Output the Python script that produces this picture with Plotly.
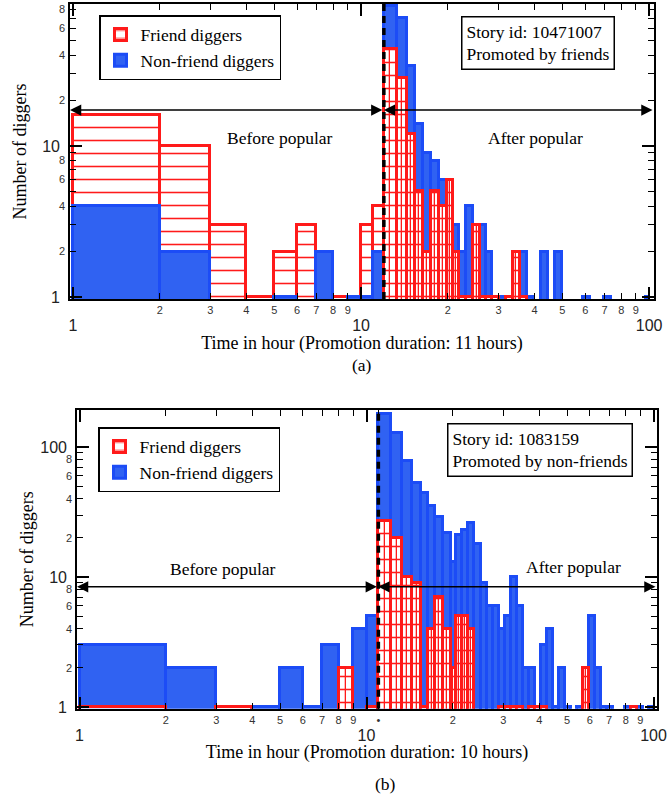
import math
import plotly.graph_objects as go

# ---------------- data: panel (a) story 10471007, promoted by friends ----------------
a_promotion_hours = 11
a_before_edges = [1, 2, 3, 4, 5, 6, 7, 8, 9, 10, 11, 12]
a_before_friend = [16, 10, 3, 1, 2, 3, 0, 1, 0, 3, 4]
a_before_nonfriend = [4, 2, 0, 0, 1, 0, 2, 0, 1, 1, 2]

a_after_edges = [12, 13.3, 14.4, 15.4, 16.4, 17.5, 18.7, 19.9, 20.9, 21.9, 23.1, 24.5,
                 25.9, 27.2, 28.5, 30.2, 31.9, 33.7, 35.6, 37.7, 39.9, 42.2, 44.6, 47.2,
                 49.9, 52.7, 55.8, 59.0, 62.4, 66.0, 69.8, 73.8, 78.0, 82.5, 87.3, 92.3,
                 97.6, 100]
a_after_friend = [44, 28, 12, 5, 2, 5, 4, 6, 2, 1, 1, 3, 1, 1, 1, 0, 1, 2, 1,
                  0, 0, 0, 0, 0, 0, 0, 0, 0, 0, 0, 0, 0, 0, 0, 0, 0, 0]
a_after_nonfriend = [84, 70, 34, 14, 9, 8, 6, 5, 3, 2, 4, 3, 3, 2, 1, 1, 1, 2, 2,
                     1, 0, 2, 0, 2, 0, 0, 0, 1, 0, 0, 1, 0, 0, 0, 0, 0, 1]

# ---------------- data: panel (b) story 1083159, promoted by non-friends ----------------
b_promotion_hours = 10
b_before_edges = [1, 2, 3, 4, 5, 6, 7, 8, 9, 10, 11]
b_before_friend = [1, 0, 1, 0, 0, 0, 0, 2, 0, 1]
b_before_nonfriend = [3, 2, 0, 1, 2, 1, 3, 0, 4, 5]

b_after_edges = [11, 12.17, 13.3, 14.41, 15.48, 16.38, 17.33, 18.48, 19.7, 20.5, 21.51,
                 22.58, 23.7, 25.06, 26.3, 27.6, 28.96, 30.39, 31.88, 33.46, 35.11, 36.84,
                 38.66, 40.55, 42.55, 44.65, 46.85, 49.16, 51.59, 54.13, 56.8, 59.6, 62.54,
                 65.62, 68.86, 72.25, 75.82, 79.56, 83.48, 87.6, 91.92, 96.45, 100]
b_after_friend = [27, 20, 10, 9, 1, 4, 7, 4, 2, 5, 5, 4, 0, 0, 0, 0, 1, 1, 1, 1, 0,
                  1, 1, 1, 0, 0, 0, 0, 0, 0, 2, 0, 0, 0, 0, 0, 0, 0, 1, 0, 0, 0]
b_after_nonfriend = [179, 128, 78, 53, 44, 35, 29, 22, 13, 21, 23, 26, 18, 9, 6, 6, 4, 5,
                     10, 6, 2, 2, 1, 3, 4, 1, 2, 1, 0, 1, 0, 5, 2, 1, 1, 0, 0, 1, 0, 1, 0, 1]

x_minor_vals = [2, 3, 4, 5, 6, 7, 8, 9, 20, 30, 40, 50, 60, 70, 80, 90]
x_minor_text = ["2", "3", "4", "5", "6", "7", "8", "9", "2", "3", "4", "5", "6", "7", "8", "9"]
x_major_vals = [1, 10, 100]
x_major_text = ["1", "10", "100"]
y_minor_vals = [2, 3, 4, 5, 6, 7, 8, 9, 20, 30, 40, 50, 60, 70, 80, 90]
y_minor_text = ["2", "", "4", "", "6", "", "8", "", "2", "", "4", "", "6", "", "8", ""]
y_major_vals = [1, 10, 100]
y_major_text = ["1", "10", "100"]

# ---------------- styling ----------------
W, H = 669, 801
RED = "#ff1a1a"
BLUE_FILL = "#3062f2"
BLUE_LINE = "#1c4cf6"
SERIF = "Liberation Serif"
SANS = "Liberation Sans"

A_XPX, A_YPX = (70, 654), (4, 299)
B_XPX, B_YPX = (77, 657), (410, 708.7)
A_XR, A_YR = [-0.0104, 2.017], [-0.013, 1.94]
B_XR, B_YR = [-0.0087, 2.0122], [-0.013, 2.285]


def pxx(v):
    return v / W


def pxy(v):
    return 1 - v / H


def bar_geom(edges, counts):
    lo, hi = edges[:-1], edges[1:]
    keep = [i for i, c in enumerate(counts) if c > 0]
    x = [(lo[i] + hi[i]) / 2 for i in keep]
    w = [hi[i] - lo[i] for i in keep]
    y = [counts[i] for i in keep]
    return x, w, y


def mid_geom(edges, counts):
    lo, hi = edges[:-1], edges[1:]
    keep = [i for i, c in enumerate(counts) if c > 1]
    g = [math.sqrt(lo[i] * hi[i]) for i in keep]
    x = [(lo[i] + gi) / 2 for i, gi in zip(keep, g)]
    w = [gi - lo[i] for i, gi in zip(keep, g)]
    y = [counts[i] for i in keep]
    return x, w, y


def friend_bar(edges, counts, xa, ya, legend, show):
    x, w, y = bar_geom(edges, counts)
    return go.Bar(x=x, y=y, width=w, xaxis=xa, yaxis=ya, name="Friend diggers",
                  legend=legend, showlegend=show, legendrank=1, hoverinfo="skip",
                  marker=dict(color="white", line=dict(color=RED, width=3),
                              pattern=dict(shape="-", fgcolor=RED, bgcolor="white",
                                           size=13, solidity=0.12, fillmode="replace")))


def friend_mid(edges, counts, xa, ya):
    x, w, y = mid_geom(edges, counts)
    return go.Bar(x=x, y=y, width=w, xaxis=xa, yaxis=ya, showlegend=False,
                  hoverinfo="skip",
                  marker=dict(color="rgba(0,0,0,0)", line=dict(color=RED, width=1.3)))


def nonfriend_bar(edges, counts, xa, ya, legend, show):
    x, w, y = bar_geom(edges, counts)
    return go.Bar(x=x, y=y, width=w, xaxis=xa, yaxis=ya, name="Non-friend diggers",
                  legend=legend, showlegend=show, legendrank=2, hoverinfo="skip",
                  marker=dict(color=BLUE_FILL, line=dict(color=BLUE_LINE, width=3)))


def axis_carrier(edges, counts, xa, ya):
    # invisible trace so the overlaid major-tick axes get drawn
    x, w, y = bar_geom(edges, counts)
    return go.Scatter(x=x, y=y, xaxis=xa, yaxis=ya, mode="none", showlegend=False,
                      hoverinfo="skip")


fig = go.Figure()

# panel (a)
fig.add_trace(friend_bar(a_before_edges, a_before_friend, "x", "y", "legend", True))
fig.add_trace(nonfriend_bar(a_before_edges, a_before_nonfriend, "x", "y", "legend", True))
fig.add_trace(nonfriend_bar(a_after_edges, a_after_nonfriend, "x", "y", "legend", False))
fig.add_trace(friend_bar(a_after_edges, a_after_friend, "x", "y", "legend", False))
fig.add_trace(friend_mid(a_after_edges, a_after_friend, "x", "y"))
a_line_x = 1 + a_promotion_hours
fig.add_trace(go.Scatter(x=[a_line_x, a_line_x], y=[10 ** A_YR[0], 10 ** A_YR[1]],
                         xaxis="x", yaxis="y", mode="lines", showlegend=False,
                         hoverinfo="skip",
                         line=dict(color="black", width=3.5, dash="7px,5px")))
fig.add_trace(axis_carrier(a_before_edges, a_before_friend, "x3", "y3"))

# panel (b)
fig.add_trace(nonfriend_bar(b_before_edges, b_before_nonfriend, "x2", "y2", "legend2", True))
fig.add_trace(friend_bar(b_before_edges, b_before_friend, "x2", "y2", "legend2", True))
fig.add_trace(friend_mid(b_before_edges, b_before_friend, "x2", "y2"))
fig.add_trace(nonfriend_bar(b_after_edges, b_after_nonfriend, "x2", "y2", "legend2", False))
fig.add_trace(friend_bar(b_after_edges, b_after_friend, "x2", "y2", "legend2", False))
fig.add_trace(friend_mid(b_after_edges, b_after_friend, "x2", "y2"))
b_line_x = 1 + b_promotion_hours
fig.add_trace(go.Scatter(x=[b_line_x, b_line_x], y=[10 ** B_YR[0], 10 ** B_YR[1]],
                         xaxis="x2", yaxis="y2", mode="lines", showlegend=False,
                         hoverinfo="skip",
                         line=dict(color="black", width=3.5, dash="7px,5px")))
fig.add_trace(axis_carrier(b_before_edges, b_before_nonfriend, "x4", "y4"))

minor_font = dict(family=SANS, size=11, color="#333333")
major_font = dict(family=SANS, size=16, color="#222222")


def minor_x(domain, rng, anchor, vals, text, title):
    return dict(type="log", domain=domain, range=rng, anchor=anchor, tickmode="array",
                tickvals=vals, ticktext=text, ticks="inside", ticklen=6, tickwidth=1.2,
                tickcolor="black", mirror="ticks", showline=True, linecolor="black",
                linewidth=1.6, showgrid=False, zeroline=False, tickfont=minor_font,
                ticklabelstandoff=0, automargin=False,
                title=dict(text=title, font=dict(family=SERIF, size=18, color="black"),
                           standoff=21))


def major_x(over, rng, anchor):
    return dict(type="log", overlaying=over, range=rng, anchor=anchor, tickmode="array",
                tickvals=x_major_vals, ticktext=x_major_text, ticks="inside", ticklen=12,
                tickwidth=1.6, tickcolor="black", mirror="ticks", showline=False,
                showgrid=False, zeroline=False, tickfont=major_font, ticklabelstandoff=15,
                automargin=False)


def minor_y(domain, rng, anchor):
    return dict(type="log", domain=domain, range=rng, anchor=anchor, tickmode="array",
                tickvals=y_minor_vals, ticktext=y_minor_text, ticks="inside", ticklen=6,
                tickwidth=1.2, tickcolor="black", mirror="ticks", showline=True,
                linecolor="black", linewidth=1.6, showgrid=False, zeroline=False,
                tickfont=minor_font, ticklabelstandoff=1, automargin=False,
                title=dict(text="Number of diggers",
                           font=dict(family=SERIF, size=18, color="black"), standoff=28))


def major_y(over, rng, anchor):
    return dict(type="log", overlaying=over, range=rng, anchor=anchor, tickmode="array",
                tickvals=y_major_vals, ticktext=y_major_text, ticks="inside", ticklen=12,
                tickwidth=1.6, tickcolor="black", mirror="ticks", showline=False,
                showgrid=False, zeroline=False, tickfont=major_font, ticklabelstandoff=9,
                automargin=False)


a_xdom = [pxx(A_XPX[0]), pxx(A_XPX[1])]
a_ydom = [pxy(A_YPX[1]), pxy(A_YPX[0])]
b_xdom = [pxx(B_XPX[0]), pxx(B_XPX[1])]
b_ydom = [pxy(B_YPX[1]), pxy(B_YPX[0])]

b_minor_vals = x_minor_vals + [b_line_x]
b_minor_text = x_minor_text + ["•"]

legend_font = dict(family=SERIF, size=17.5, color="black")
fig.update_layout(
    width=W, height=H, autosize=False,
    margin=dict(l=0, r=0, t=0, b=0),
    paper_bgcolor="white", plot_bgcolor="white",
    barmode="overlay", bargap=0,
    xaxis=minor_x(a_xdom, A_XR, "y", x_minor_vals, x_minor_text,
                  "Time in hour (Promotion duration: %d hours)" % a_promotion_hours),
    yaxis=minor_y(a_ydom, A_YR, "x"),
    xaxis2=minor_x(b_xdom, B_XR, "y2", b_minor_vals, b_minor_text,
                   "Time in hour (Promotion duration: %d hours)" % b_promotion_hours),
    yaxis2=minor_y(b_ydom, B_YR, "x2"),
    xaxis3=major_x("x", A_XR, "y"),
    yaxis3=major_y("y", A_YR, "x"),
    xaxis4=major_x("x2", B_XR, "y2"),
    yaxis4=major_y("y2", B_YR, "x2"),
    legend=dict(x=pxx(99), y=pxy(15), xanchor="left", yanchor="top", bgcolor="white",
                bordercolor="black", borderwidth=1.5, font=legend_font, itemwidth=30,
                tracegroupgap=0),
    legend2=dict(x=pxx(98), y=pxy(427), xanchor="left", yanchor="top", bgcolor="white",
                 bordercolor="black", borderwidth=1.5, font=legend_font, itemwidth=30,
                 tracegroupgap=0),
)

a_arrow_y = math.log10(17.3)
b_arrow_y = math.log10(8.4)
arrow_style = dict(text="", showarrow=True, arrowhead=2, arrowsize=1.5, arrowwidth=1.5,
                   arrowcolor="black", arrowside="end+start", standoff=0, startstandoff=0)

annots = [
    dict(xref="x", yref="y", axref="x", ayref="y", x=A_XR[0], y=a_arrow_y,
         ax=math.log10(a_line_x), ay=a_arrow_y, **arrow_style),
    dict(xref="x", yref="y", axref="x", ayref="y", x=math.log10(a_line_x), y=a_arrow_y,
         ax=A_XR[1], ay=a_arrow_y, **arrow_style),
    dict(xref="x2", yref="y2", axref="x2", ayref="y2", x=B_XR[0], y=b_arrow_y,
         ax=math.log10(b_line_x), ay=b_arrow_y, **arrow_style),
    dict(xref="x2", yref="y2", axref="x2", ayref="y2", x=math.log10(b_line_x), y=b_arrow_y,
         ax=B_XR[1], ay=b_arrow_y, **arrow_style),
]

text_font = dict(family=SERIF, size=17.5, color="black")
for txt, x, y in [("Before popular", 280, 138), ("After popular", 535, 138),
                  ("Before popular", 223, 569), ("After popular", 573, 567),
                  ("(a)", 362, 365), ("(b)", 385, 784)]:
    annots.append(dict(xref="paper", yref="paper", x=pxx(x), y=pxy(y), text=txt,
                       showarrow=False, font=text_font, xanchor="center", yanchor="middle"))

annots.append(dict(xref="paper", yref="paper", x=pxx(461), y=pxy(16), xanchor="left",
                   yanchor="top", align="left", showarrow=False, bgcolor="white",
                   bordercolor="black", borderwidth=1.5, borderpad=4, font=text_font,
                   text="Story id: 10471007<br>Promoted by friends"))
annots.append(dict(xref="paper", yref="paper", x=pxx(447), y=pxy(423), xanchor="left",
                   yanchor="top", align="left", showarrow=False, bgcolor="white",
                   bordercolor="black", borderwidth=1.5, borderpad=4, font=text_font,
                   text="Story id: 1083159<br>Promoted by non-friends"))

fig.update_layout(annotations=annots)

fig.write_html("out.html", config={"displayModeBar": False},
               post_script="document.body.style.margin='0';")
